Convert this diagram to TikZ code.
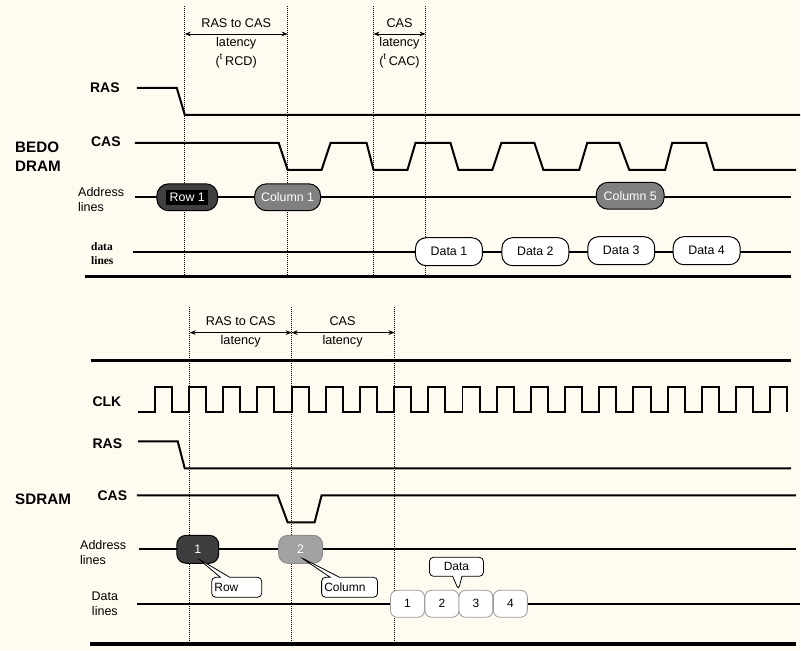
\documentclass[tikz,border=0pt]{standalone}
\usepackage{fontspec}
\setmainfont{Liberation Sans}
\newfontfamily\timesfont{Liberation Serif}
\usetikzlibrary{arrows.meta,positioning,shapes.callouts}
\definecolor{paper}{RGB}{255,251,240}
\definecolor{colgray}{RGB}{128,128,128}
\definecolor{litegray}{RGB}{162,162,162}

\begin{document}
\begin{tikzpicture}[x=0.75pt, y=-0.75pt]
    \tikzset{
        sig/.style={line width=1.5pt, line join=miter},
        divider/.style={line width=2.6pt},
        guide/.style={line width=0.75pt, dash pattern=on 0.75pt off 0.75pt},
        lat/.style={{Stealth[length=4.5pt,width=3.5pt]}-{Stealth[length=4.5pt,width=3.5pt]}, line width=0.6pt},
        ann/.style={font=\fontsize{9.5}{14.25}\selectfont, align=center, inner sep=0pt},
        signame/.style={font=\fontsize{10.5}{12}\selectfont\bfseries, inner sep=0pt},
        lbl/.style={font=\fontsize{9.4}{11.5}\selectfont, align=left, inner sep=0pt},
        addr/.style={draw, line width=0.75pt, rounded corners=9pt, minimum height=20.25pt, text=white, font=\fontsize{9.3}{11}\selectfont, inner sep=0pt},
        datum/.style={draw, fill=white, line width=0.75pt, rounded corners=8pt, minimum width=50.25pt, minimum height=21pt, font=\fontsize{9.3}{11}\selectfont, inner sep=0pt},
        beat/.style={draw=black!40, fill=white, line width=0.6pt, rounded corners=5pt, minimum width=25.5pt, minimum height=20.25pt, font=\fontsize{9}{11}\selectfont, inner sep=0pt},
        bubble/.style={rectangle callout, draw, fill=white, line width=0.6pt, rounded corners=3pt, minimum height=15pt, callout pointer width=7pt, font=\fontsize{9}{11}\selectfont, inner xsep=2pt, inner ysep=0pt, align=left}
    }
    \fill[paper] (0,0) rectangle (801,651);

    % BEDO DRAM
    \foreach \n/\x in {a/185, b/288, c/374, d/426} {
        \coordinate (top\n) at (\x,6);
        \coordinate (arr\n) at (\x,34);
        \draw[guide] (top\n) -- (\x,277);
    }
    \draw[lat] (arra) -- (arrb);
    \draw[lat] (arrc) -- (arrd);
    \node[ann] (rcd) at (236.5,43) {RAS to CAS\\latency\\(\textsuperscript{t}\,RCD)};
    \node[ann] (cac) at (400,43) {CAS\\latency\\(\textsuperscript{t}\,CAC)};

    \node[signame] (ras1) at (105,88) {RAS};
    \node[signame] (cas1) at (106,142) {CAS};
    \node[signame, font=\fontsize{11.4}{14.25}\selectfont\bfseries, align=left, anchor=west] (bedo) at (15,157) {BEDO\\DRAM};
    \node[lbl, anchor=west] (adr1) at (78,200) {Address\\lines};
    \node[lbl, font=\timesfont\fontsize{8.6}{10.5}\selectfont\bfseries, anchor=west] (dat1) at (91,254) {data\\lines};

    \draw[sig] (137,88) -- (177,88) -- (185,115) -- (801,115);
    \draw[sig] (135,143) -- (279,143) -- (288,170) -- (322,170) -- (331,143) -- (367,143) -- (374,170)
        -- (408,170) -- (416,143) -- (451,143) -- (459,170) -- (493,170) -- (502,143) -- (535,143)
        -- (544,170) -- (580,170) -- (588,143) -- (620,143) -- (630,170) -- (666,170) -- (673,143)
        -- (707,143) -- (715,170) -- (797,170);
    \draw[sig] (135,197) -- (792,197);
    \draw[sig] (133,252) -- (792,252);
    \draw[divider] (85,277) -- (792,277);

    \node[addr, fill=black!75, minimum width=45.75pt] (row1) at (187.5,197.5) {\setlength\fboxsep{2.5pt}\colorbox{black}{Row 1}};
    \node[addr, fill=colgray, minimum width=49.5pt] (col1) at (288,197.5) {Column 1};
    \node[addr, fill=colgray, minimum width=51pt] (col5) at (631,196) {Column 5};
    \node[datum] (data1) at (449.5,252) {Data 1};
    \node[datum] (data2) at (536,252) {Data 2};
    \node[datum] (data3) at (622,251) {Data 3};
    \node[datum] (data4) at (707.5,251) {Data 4};

    % SDRAM
    \foreach \n/\x in {e/190, f/292, g/395} {
        \coordinate (top\n) at (\x,307);
        \coordinate (arr\n) at (\x,333);
        \draw[guide] (top\n) -- (\x,643);
    }
    \draw[lat] (arre) -- (arrf);
    \draw[lat] (arrf) -- (arrg);
    \node[ann] (rcd2) at (241,332) {RAS to CAS\\latency};
    \node[ann] (cas2) at (343,332) {CAS\\latency};

    \draw[divider] (91,361) -- (792,361);

    \node[signame] (clk) at (107,402) {CLK};
    \node[signame] (ras2) at (107.5,444) {RAS};
    \node[signame, font=\fontsize{11.4}{14}\selectfont\bfseries, anchor=west] (sdram) at (15,500) {SDRAM};
    \node[signame] (cas3) at (112.5,496) {CAS};
    \node[lbl, anchor=west] (adr2) at (80,553.5) {Address\\lines};
    \node[lbl, font=\fontsize{9.4}{12}\selectfont, align=center] (dat2) at (105,604.5) {Data\\lines};

    \draw[sig] (138,413) foreach \j in {0,...,18} {
        -- ({155+34.23*\j},413) -- ({155+34.23*\j},387) -- ({172.12+34.23*\j},387) -- ({172.12+34.23*\j},413)
    };
    \draw[sig] (138,442) -- (178,442) -- (185,469) -- (792,469);
    \draw[sig] (137,496) -- (278,496) -- (288,523) -- (315,523) -- (322,496) -- (797,496);
    \draw[sig] (139,550) -- (797,550);
    \draw[sig] (137,605) -- (801,605);
    \draw[divider] (90,645) -- (797,645);

    \node[addr, fill=black!76, rounded corners=7pt, minimum width=31.5pt, minimum height=21pt] (n1) at (198,550) {1};
    \node[addr, draw=black!45, fill=litegray, rounded corners=7pt, minimum width=33pt, minimum height=21pt] (n2) at (301,550) {2};
    \node[beat] (w1) at (408,604.5) {1};
    \node[beat] (w2) at (442.5,604.5) {2};
    \node[beat] (w3) at (476.5,604.5) {3};
    \node[beat] (w4) at (511,604.5) {4};

    \node[bubble, text width=33.5pt, callout absolute pointer={([yshift=-6.75pt]n1.center)}] (rowtag) at (237,588) {Row};
    \node[bubble, text width=38pt, callout absolute pointer={([yshift=-6pt]n2.center)}] (coltag) at (350,588) {Column};
    \node[bubble, text width=36.5pt, align=center, minimum height=14.25pt, callout absolute pointer={(w3.north west)}] (datatag) at (457,567.5) {Data};
\end{tikzpicture}
\end{document}
